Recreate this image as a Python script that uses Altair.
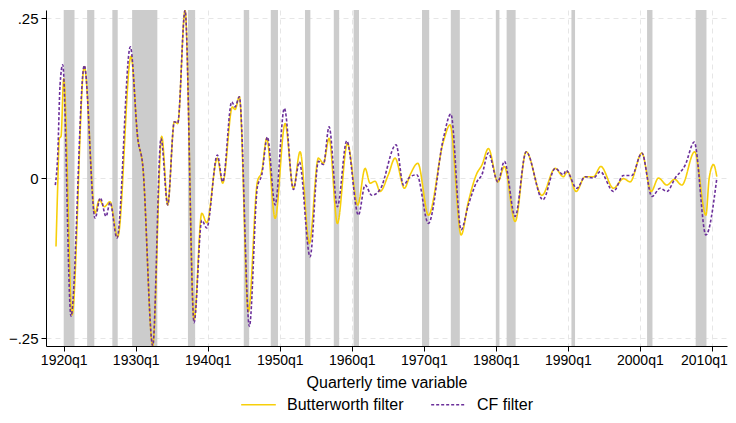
import altair as alt
import pandas as pd

# ---- data ----
bw_time = [1918.93, 1919.17, 1919.39, 1919.63, 1920.0, 1921.15, 1922.86, 1924.35, 1924.94, 1925.64,
           1926.43, 1927.5, 1929.35, 1930.28, 1930.97, 1932.36, 1933.61, 1934.44, 1935.36, 1935.83,
           1936.85, 1938.1, 1939.17, 1939.86, 1941.33, 1942.08, 1943.42, 1943.79, 1944.39, 1945.64,
           1946.89, 1947.5, 1948.19, 1949.35, 1950.74, 1951.89, 1952.82, 1954.11, 1955.36, 1956.06,
           1956.85, 1958.0, 1959.39, 1960.83, 1961.85, 1962.54, 1963.24, 1963.93, 1965.07, 1966.01,
           1967.31, 1968.1, 1969.17, 1970.64, 1972.72, 1973.65, 1975.18, 1976.19, 1977.36, 1978.06,
           1978.97, 1980.28, 1981.19, 1982.68, 1984.21, 1986.39, 1988.24, 1989.39, 1989.94, 1991.15,
           1992.4, 1993.56, 1994.58, 1996.33, 1997.72, 1998.65, 2000.28, 2001.57, 2002.58, 2003.75,
           2004.81, 2005.83, 2007.6, 2009.17, 2009.63, 2010.22, 2010.69]
bw_value = [-0.107, -0.011, 0.062, 0.065, 0.155, -0.214, 0.174, -0.055, -0.034, -0.045,
            -0.037, -0.092, 0.19, 0.062, 0.02, -0.262, 0.065, -0.042, 0.088, 0.085,
            0.262, -0.222, -0.055, -0.07, 0.031, -0.008, 0.111, 0.107, 0.127, -0.209,
            -0.006, 0.01, 0.062, -0.063, 0.085, -0.016, 0.041, -0.102, 0.031, 0.023,
            0.062, -0.071, 0.054, -0.042, 0.015, -0.008, -0.005, -0.021, 0.005, 0.031,
            -0.016, 0.005, 0.023, -0.058, 0.057, 0.083, -0.089, -0.037, 0.007, 0.02,
            0.046, -0.006, 0.018, -0.068, 0.041, -0.027, 0.015, 0.002, 0.01, -0.021,
            0.002, 0.002, 0.018, -0.016, -0.001, -0.006, 0.039, -0.021, 0.0, -0.011,
            -0.002, -0.011, 0.041, -0.058, 0.0, 0.021, 0.002]

cf_time = [1918.83, 1919.17, 1919.49, 1919.86, 1921.01, 1922.86, 1924.35, 1925.08, 1925.88, 1926.43,
           1927.4, 1929.25, 1930.28, 1930.97, 1932.36, 1933.51, 1934.44, 1935.36, 1935.83, 1936.85,
           1938.1, 1939.17, 1939.86, 1941.33, 1942.08, 1943.33, 1943.79, 1944.39, 1945.78, 1946.89,
           1947.5, 1948.28, 1949.35, 1950.64, 1951.89, 1952.72, 1954.21, 1955.36, 1956.06, 1956.85,
           1958.0, 1959.3, 1960.92, 1961.85, 1962.78, 1963.93, 1966.15, 1967.17, 1968.1, 1969.03,
           1970.64, 1972.72, 1973.75, 1975.18, 1976.19, 1977.36, 1978.06, 1978.97, 1980.28, 1981.19,
           1982.68, 1984.21, 1986.53, 1988.24, 1989.39, 1989.75, 1991.24, 1992.4, 1993.56, 1994.49,
           1996.33, 1997.72, 1998.88, 2000.28, 2001.67, 2002.82, 2003.75, 2004.91, 2006.29, 2007.55,
           2009.17, 2010.69]
cf_value = [-0.011, 0.036, 0.145, 0.177, -0.216, 0.176, -0.063, -0.031, -0.06, -0.038,
            -0.094, 0.205, 0.062, 0.02, -0.262, 0.062, -0.042, 0.088, 0.086, 0.262,
            -0.226, -0.066, -0.078, 0.036, -0.006, 0.119, 0.111, 0.127, -0.232, -0.014,
            0.005, 0.064, -0.042, 0.109, -0.018, 0.025, -0.123, 0.026, 0.021, 0.08,
            -0.045, 0.058, -0.058, -0.011, -0.027, -0.018, 0.052, -0.011, 0.002, 0.005,
            -0.071, 0.062, 0.1, -0.081, -0.042, -0.006, 0.005, 0.039, -0.006, 0.026,
            -0.06, 0.041, -0.034, 0.015, 0.005, 0.012, -0.016, 0.002, 0.0, 0.01,
            -0.021, 0.004, 0.004, 0.039, -0.029, -0.016, -0.021, 0.0, 0.02, 0.056,
            -0.089, 0.0]

# NBER recessions (peak quarter, trough quarter) as decimal years
rec_start = [1920.0, 1923.25, 1926.75, 1929.5, 1937.25, 1945.0, 1948.75, 1953.5, 1957.5, 1960.25,
             1969.75, 1973.75, 1980.0, 1981.5, 1990.5, 2001.0, 2007.75]
rec_end = [1921.5, 1924.25, 1927.5, 1933.0, 1938.25, 1945.75, 1949.75, 1954.25, 1958.25, 1961.0,
           1970.75, 1975.0, 1980.5, 1982.75, 1991.0, 2001.75, 2009.25]

series_names = ["Butterworth filter", "CF filter"]
series_colors = ["#f7cf0a", "#6b2f9a"]
x_ticks = [1920, 1930, 1940, 1950, 1960, 1970, 1980, 1990, 2000, 2010]
y_ticks = [-0.25, 0, 0.25]

lines = pd.concat([
    pd.DataFrame({"t": bw_time, "v": bw_value, "series": series_names[0]}),
    pd.DataFrame({"t": cf_time, "v": cf_value, "series": series_names[1]}),
])
rec = pd.DataFrame({"s": rec_start, "e": rec_end})

W, H = 681, 336
FONT = "Liberation Sans"

xscale = alt.Scale(domain=[1917.54, 2012.1], nice=False, zero=False)
yscale = alt.Scale(domain=[-0.2625, 0.2625], nice=False, zero=False)

xaxis = alt.Axis(values=x_ticks, labelExpr="datum.value + 'q1'", title="Quarterly time variable",
                 grid=True, gridDash=[5, 4], gridColor="#e6e6e6", gridWidth=1,
                 domainColor="black", tickColor="black", tickSize=5, labelColor="black",
                 labelFont=FONT, labelFontSize=14, labelPadding=2,
                 labelOffset={"condition": {"test": "datum.value == 2010", "value": -8}, "value": 0},
                 titleFont=FONT, titleFontSize=16, titleFontWeight="normal", titleColor="black",
                 titlePadding=7)
yaxis = alt.Axis(values=y_ticks,
                 labelExpr="datum.value == 0 ? '0' : replace(format(datum.value, '.2f'), '0.', '.')",
                 title=None, grid=True, gridDash=[5, 4], gridColor="#e6e6e6", gridWidth=1,
                 domainColor="black", tickColor="black", tickSize=5, labelColor="black",
                 labelFont=FONT, labelFontSize=15, labelPadding=3)

legend = alt.Legend(title=None, orient="none", direction="horizontal",
                    legendX=194, legendY=376, symbolType="stroke",
                    symbolSize=1200, symbolStrokeWidth=1.5,
                    labelFont=FONT, labelFontSize=16, labelColor="black",
                    labelOffset=10, columnPadding=24)

bars = alt.Chart(rec).mark_rect(color="#cccccc").encode(
    x=alt.X("s:Q", scale=xscale, axis=xaxis),
    x2="e:Q",
    y=alt.value(0),
    y2=alt.value(H),
)

line = alt.Chart(lines).mark_line(interpolate="monotone", strokeWidth=1.6, clip=True).encode(
    x=alt.X("t:Q", scale=xscale, axis=xaxis),
    y=alt.Y("v:Q", scale=yscale, axis=yaxis),
    color=alt.Color("series:N", scale=alt.Scale(domain=series_names, range=series_colors),
                    legend=legend),
    strokeDash=alt.StrokeDash("series:N", scale=alt.Scale(domain=series_names, range=[[1, 0], [3, 2]]),
                              legend=legend),
    detail="series:N",
)

chart = alt.layer(bars, line).properties(
    width=W, height=H,
    background="white",
    autosize=alt.AutoSizeParams(type="none"),
    padding={"left": 38, "top": 2, "right": 1, "bottom": 69},
).configure_view(stroke=None)

chart.save("out.html", embed_options={"renderer": "svg", "actions": False})
